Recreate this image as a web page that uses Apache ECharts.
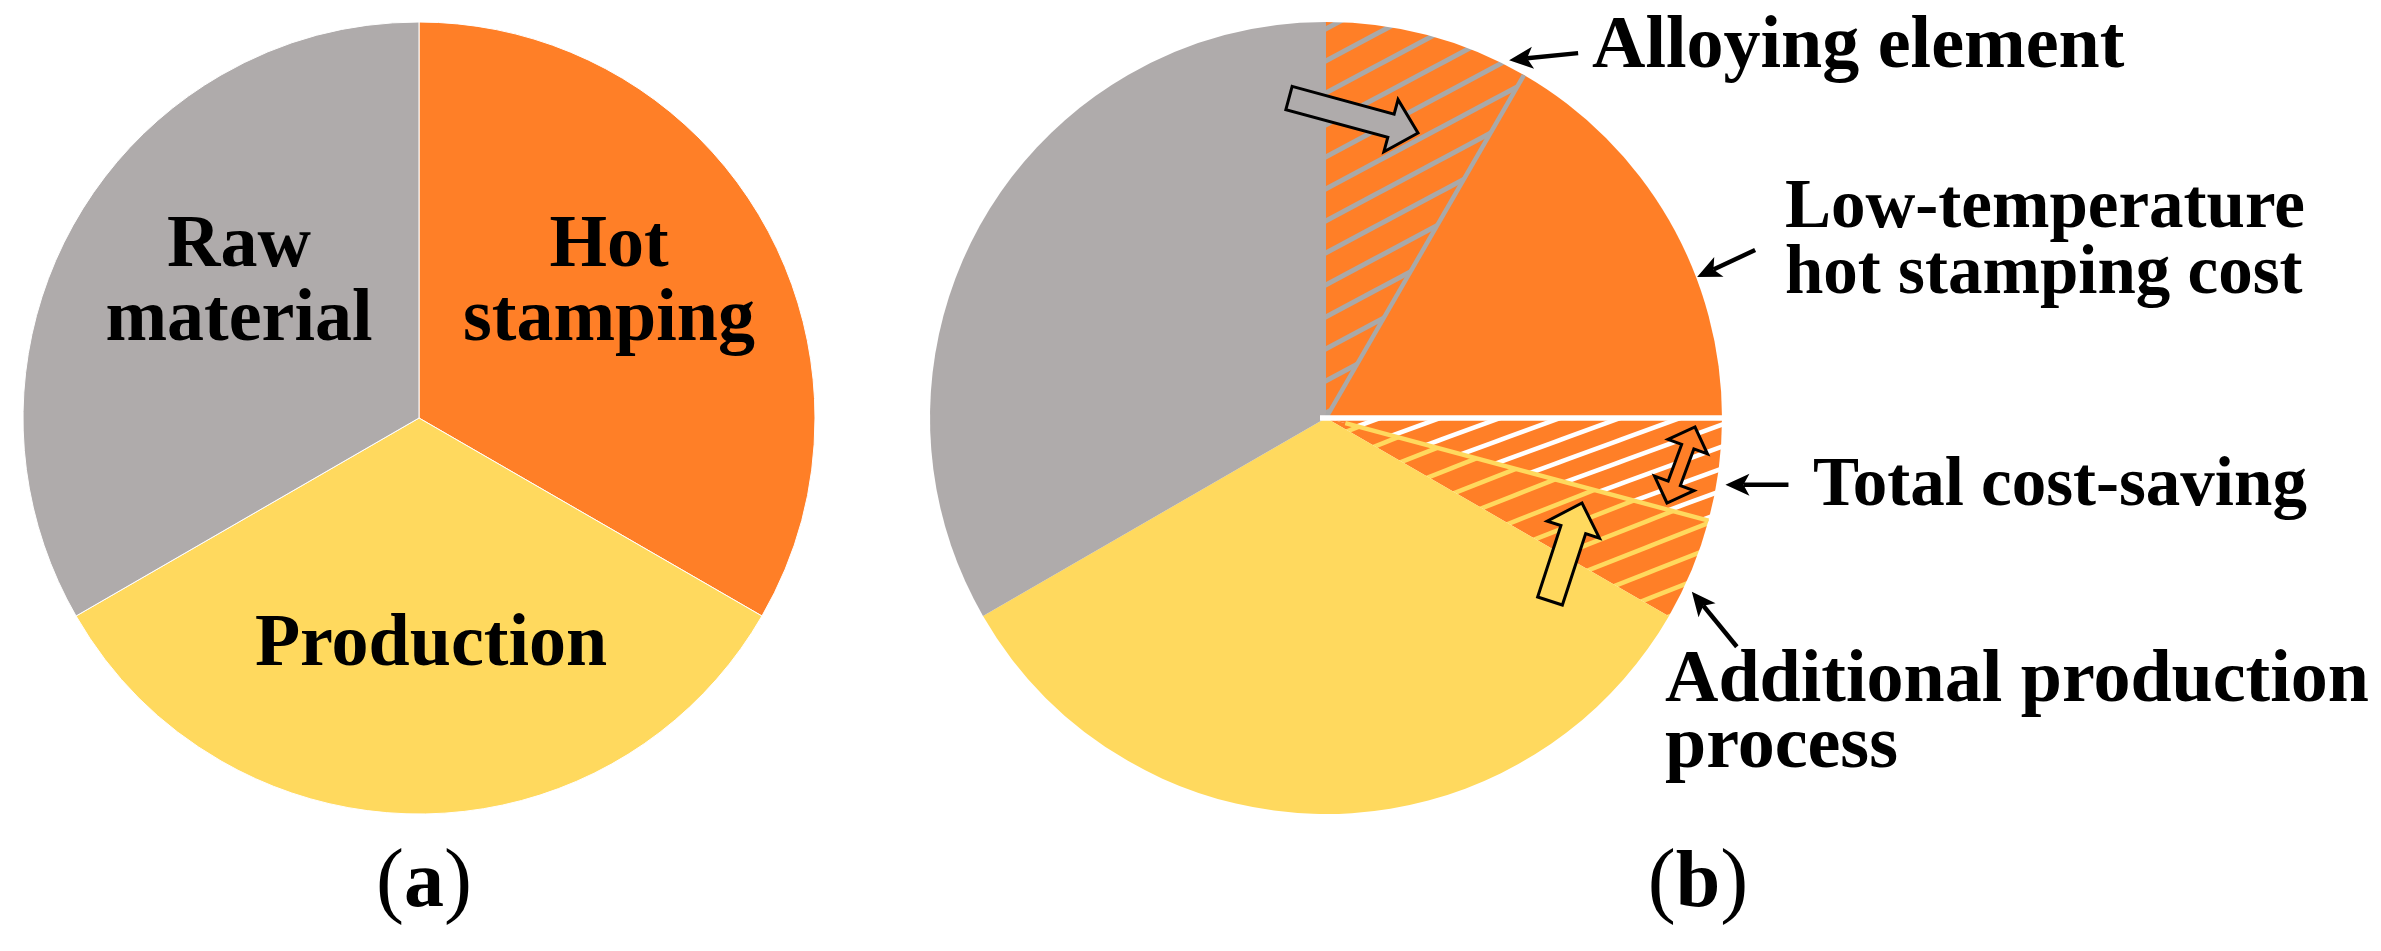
<!DOCTYPE html>
<html>
<head>
<meta charset="utf-8">
<script src="https://cdn.jsdelivr.net/npm/echarts@6/dist/echarts.min.js"></script>
<style>
html,body{margin:0;padding:0;background:#ffffff;}
#chart{width:2381px;height:951px;}
</style>
</head>
<body>
<div id="chart"></div>
<script>
// ---------- DATA ----------
// Panel (a): conventional hot stamping cost breakdown (equal thirds)
const categoriesA = ['Hot\nstamping', 'Production', 'Raw\nmaterial'];
const valuesA = [33.33, 33.33, 33.33];
// Panel (b): low-temperature hot stamping cost breakdown
const categoriesB = ['Alloying element', 'Low-temperature\nhot stamping cost', 'Total cost-saving', 'Additional production\nprocess', 'Production', 'Raw material'];
const valuesB = [8.33, 16.67, 4.17, 4.17, 33.33, 33.33];
const showLabelB = [true, true, true, true, false, false];
const panelLabels = ['a', 'b'];

// ---------- STYLE ----------
const GRAY = '#AFABAB', ORANGE = '#FF7F27', YELLOW = '#FFD95E', HATCH_GRAY = '#A9A9A9', WHITE = '#FFFFFF';
const FONT = "'Liberation Serif', 'Times New Roman', serif";
const R = 396;
const CA = [419, 418];
const CB = [1326, 418];

function hatch(bg, fg, W, H, lw) {
  const c = document.createElement('canvas');
  c.width = W; c.height = H;
  const g = c.getContext('2d');
  g.fillStyle = bg; g.fillRect(0, 0, W, H);
  g.strokeStyle = fg; g.lineWidth = lw;
  for (let k = -1; k <= 1; k++) {
    g.beginPath();
    g.moveTo(-W, 2 * H + k * H);
    g.lineTo(2 * W, -H + k * H);
    g.stroke();
  }
  return { image: c, repeat: 'repeat' };
}

const colorsA = [ORANGE, YELLOW, GRAY];
const colorsB = [
  hatch(ORANGE, HATCH_GRAY, 60, 32, 5),
  ORANGE,
  hatch(ORANGE, WHITE, 60, 22, 4.5),
  hatch(ORANGE, YELLOW, 66, 26, 4.5),
  YELLOW,
  GRAY
];

// label placements (layout only)
const labelPosA = [
  { x: 609, y: 284, align: 'center' },
  { x: 431, y: 646, align: 'center' },
  { x: 239, y: 284, align: 'center' }
];
const labelPosB = [
  { x: 1592, y: 48, align: 'left', fontSize: 74 },
  { x: 1785, y: 242, align: 'left', fontSize: 69 },
  { x: 1813, y: 487, align: 'left', fontSize: 69 },
  { x: 1665, y: 715, align: 'left', fontSize: 74 },
  null, null
];

const dataA = categoriesA.map((n, i) => ({ name: n, value: valuesA[i], itemStyle: { color: colorsA[i] } }));
const dataB = categoriesB.map((n, i) => ({
  name: n, value: valuesB[i], itemStyle: { color: colorsB[i] },
  label: labelPosB[i] ? { show: showLabelB[i], fontSize: labelPosB[i].fontSize } : { show: showLabelB[i] }
}));

// boundary angles from data (degrees, clockwise from 90)
function boundaryAngles(vals) {
  const tot = vals.reduce((a, b) => a + b, 0);
  let cum = 0; const out = [90];
  vals.forEach(v => { cum += v; out.push(90 - 360 * cum / tot); });
  return out;
}
const angB = boundaryAngles(valuesB);
function polar(c, r, deg) {
  const a = deg * Math.PI / 180;
  return [c[0] + r * Math.cos(a), c[1] - r * Math.sin(a)];
}

const graphics = [];
function radial(deg, color, w, r0) {
  const p0 = polar(CB, r0 || 0, deg), p1 = polar(CB, R, deg);
  graphics.push({ type: 'line', z: 90, shape: { x1: p0[0], y1: p0[1], x2: p1[0], y2: p1[1] }, style: { stroke: color, lineWidth: w } });
}
radial(angB[1], HATCH_GRAY, 4.5, 0);   // alloying | low-temp
radial(angB[3], YELLOW, 4.5, 20);      // cost-saving | additional
(function () { // white separator at low-temp | cost-saving
  const p0 = polar(CB, -6, angB[2]), p1 = polar(CB, R + 1, angB[2]);
  graphics.push({ type: 'line', z: 91, shape: { x1: p0[0], y1: p0[1], x2: p1[0], y2: p1[1] }, style: { stroke: WHITE, lineWidth: 5.5 } });
})();

function lineArrow(tail, tip) {
  const [x1, y1] = tail, [x2, y2] = tip;
  const a = Math.atan2(y2 - y1, x2 - x1), ux = Math.cos(a), uy = Math.sin(a), px = -uy, py = ux;
  const L = 24, Wd = 11, notch = 6;
  const bx = x2 - L * ux, by = y2 - L * uy;
  graphics.push({ type: 'line', z: 120, shape: { x1, y1, x2: bx + notch * ux, y2: by + notch * uy }, style: { stroke: '#000', lineWidth: 4.5 } });
  graphics.push({ type: 'polygon', z: 121, shape: { points: [[x2, y2], [bx + px * Wd, by + py * Wd], [bx + notch * ux, by + notch * uy], [bx - px * Wd, by - py * Wd]] }, style: { fill: '#000' } });
}
function arrowFromEdge(deg, rOff, dx, dy) {
  const tip = polar(CB, R + rOff, deg);
  lineArrow([tip[0] + dx, tip[1] + dy], tip);
}
arrowFromEdge(62.9, 6, 69, -7);    // Alloying element
arrowFromEdge(20.8, 1, 58, -27);   // Low-temperature
arrowFromEdge(-9.5, 9, 63, 0);     // Total cost-saving
arrowFromEdge(-25.4, 9, 45, 55);   // Additional production

function blockArrow(p1, p2, shaftW, headW, headL, fill, dbl) {
  const [x1, y1] = p1, [x2, y2] = p2;
  const a = Math.atan2(y2 - y1, x2 - x1), ux = Math.cos(a), uy = Math.sin(a), px = -uy, py = ux;
  const len = Math.hypot(x2 - x1, y2 - y1);
  const P = (t, s) => [x1 + ux * t + px * s, y1 + uy * t + py * s];
  const hs = shaftW / 2, hh = headW / 2;
  let pts;
  if (!dbl) pts = [P(0, -hs), P(len - headL, -hs), P(len - headL, -hh), P(len, 0), P(len - headL, hh), P(len - headL, hs), P(0, hs)];
  else pts = [P(0, 0), P(headL, -hh), P(headL, -hs), P(len - headL, -hs), P(len - headL, -hh), P(len, 0), P(len - headL, hh), P(len - headL, hs), P(headL, hs), P(headL, hh)];
  graphics.push({ type: 'polygon', z: 130, shape: { points: pts }, style: { fill, stroke: '#000', lineWidth: 3, lineJoin: 'miter' } });
}
blockArrow([1289, 98], [1418, 133], 24, 54, 28, GRAY, false);
blockArrow([1550, 601], [1582, 503], 26, 55, 28, YELLOW, false);
blockArrow([1667, 503], [1695, 427], 13, 42, 21, ORANGE, true);

// panel captions
[[424, 885], [1698, 885]].forEach((p, i) => {
  graphics.push({
    type: 'text', z: 140, x: p[0], y: p[1],
    style: {
      text: '{p|(}{b|' + panelLabels[i] + '}{p|)}',
      align: 'center', verticalAlign: 'middle',
      rich: {
        p: { fontFamily: FONT, fontSize: 84, fontWeight: 'normal', fill: '#000' },
        b: { fontFamily: FONT, fontSize: 80, fontWeight: 'bold', fill: '#000' }
      }
    }
  });
});

const labelBase = { color: '#000', fontFamily: FONT, fontWeight: 'bold', fontSize: 74, formatter: '{b}' };

const option = {
  animation: false,
  backgroundColor: '#ffffff',
  series: [
    {
      type: 'pie', center: CA, radius: R, startAngle: 90, clockwise: true, silent: true,
      avoidLabelOverlap: false,
      itemStyle: { borderColor: '#ffffff', borderWidth: 1 },
      label: Object.assign({ show: true, position: 'inside', lineHeight: 74 }, labelBase),
      labelLine: { show: false },
      labelLayout: p => Object.assign({ verticalAlign: 'middle' }, labelPosA[p.dataIndex]),
      data: dataA
    },
    {
      type: 'pie', center: CB, radius: R, startAngle: 90, clockwise: true, silent: true,
      avoidLabelOverlap: false,
      itemStyle: { borderWidth: 0 },
      label: Object.assign({ show: true, position: 'inside', lineHeight: 66 }, labelBase),
      labelLine: { show: false },
      labelLayout: p => {
        const q = labelPosB[p.dataIndex];
        return q ? { x: q.x, y: q.y, align: q.align, verticalAlign: 'middle' } : {};
      },
      data: dataB
    }
  ],
  graphic: graphics
};

const chart = echarts.init(document.getElementById('chart'), null, { renderer: 'canvas' });
chart.setOption(option);
</script>
</body>
</html>
